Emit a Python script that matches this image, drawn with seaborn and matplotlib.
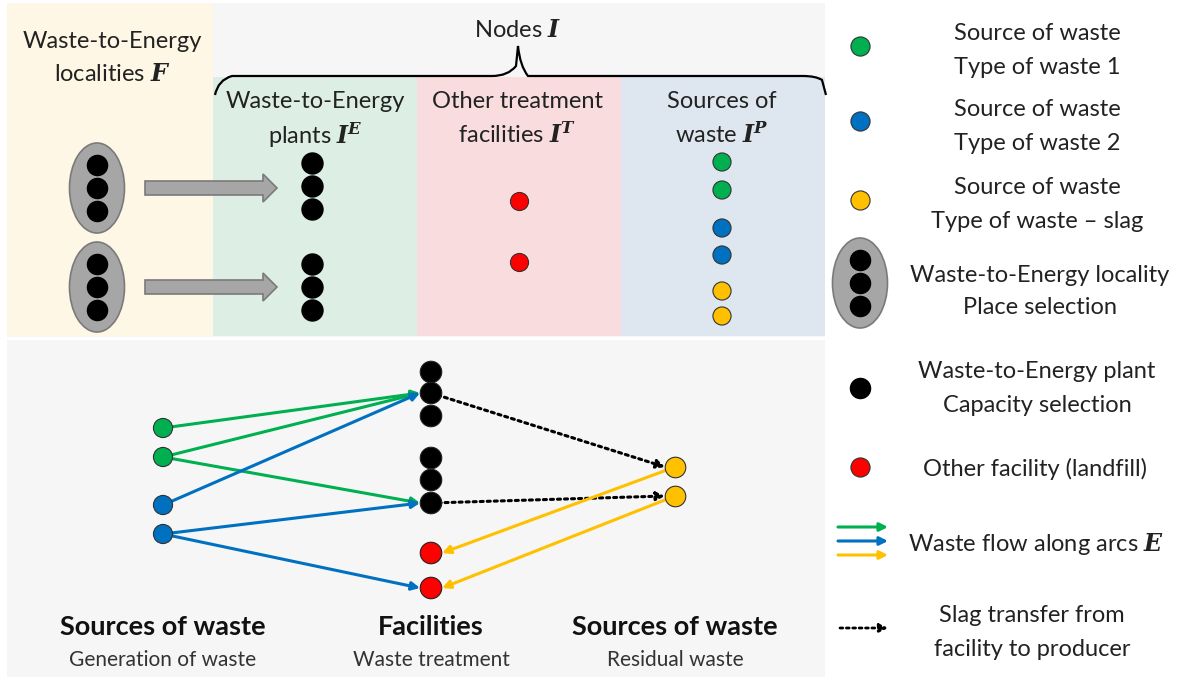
import matplotlib
matplotlib.use("Agg")
import matplotlib.pyplot as plt
import seaborn as sns
import pandas as pd
from matplotlib.patches import Rectangle, Ellipse, FancyArrow, PathPatch
from matplotlib.path import Path

sns.set_theme(style="white")
plt.rcParams["font.family"] = ["Lato", "DejaVu Sans"]
plt.rcParams["mathtext.fontset"] = "dejavuserif"

GREEN, BLUE, YELLOW, RED, BLACK = "#00B050", "#0070C0", "#FFC000", "#FF0000", "#000000"
palette = {"waste1": GREEN, "waste2": BLUE, "slag": YELLOW, "landfill": RED, "plant": BLACK}

# top panel: node sets I^E, I^T, I^P
top_plant_x = [312, 312, 312, 312, 312, 312]
top_plant_y = [163, 186, 209, 264, 287, 310]
top_other_x = [519, 519]
top_other_y = [201, 262]
top_src_x = [722, 722, 722, 722, 722, 722]
top_src_y = [162, 190, 228, 255, 291, 316]
top_src_kind = ["waste1", "waste1", "waste2", "waste2", "slag", "slag"]
localities_y = [188, 287]

# bottom panel: network
src_x = [163, 163, 163, 163]
src_y = [428, 457, 505, 534]
src_kind = ["waste1", "waste1", "waste2", "waste2"]
fac_x = [431] * 8
fac_y = [372, 393, 416, 458, 480, 503, 553, 588]
fac_kind = ["plant"] * 6 + ["landfill"] * 2
res_x = [675, 675]
res_y = [467, 496]

# arcs (start index, end index)
flows_in = [(0, 1, GREEN), (1, 1, GREEN), (1, 5, GREEN),
            (2, 1, BLUE), (3, 5, BLUE), (3, 7, BLUE)]
slag_transfer = [(1, 0), (5, 1)]
slag_flows = [(0, 6), (1, 7)]

legend_labels = [("Source of waste", "Type of waste 1"),
                 ("Source of waste", "Type of waste 2"),
                 ("Source of waste", "Type of waste \u2013 slag"),
                 ("Waste-to-Energy locality", "Place selection"),
                 ("Waste-to-Energy plant", "Capacity selection"),
                 ("Other facility (landfill)",),
                 (r"Waste flow along arcs $\mathbfit{E}$",),
                 ("Slag transfer from", "facility to producer")]

fig = plt.figure(figsize=(11.8, 6.8), dpi=100)
ax = fig.add_axes([0, 0, 1, 1])

# backgrounds
ax.add_patch(Rectangle((7, 3), 818, 674, fc="#F6F6F6", ec="none", zorder=0))
ax.add_patch(Rectangle((7, 3), 206, 333, fc="#FFF7E6", ec="none", zorder=1))
ax.add_patch(Rectangle((213, 77), 204, 259, fc="#DDEFE5", ec="none", zorder=1))
ax.add_patch(Rectangle((417, 77), 204, 259, fc="#F9DDDE", ec="none", zorder=1))
ax.add_patch(Rectangle((621, 77), 204, 259, fc="#DEE7F0", ec="none", zorder=1))
ax.plot([7, 825], [338, 338], color="white", lw=2, zorder=2)

# brace
verts = [(215, 95), (218, 80), (232, 76), (242, 76),
         (492, 76), (508, 76), (516, 66), (518, 46),
         (520, 66), (528, 76), (544, 76),
         (803, 76), (816, 76), (822, 80), (826, 95)]
codes = [Path.MOVETO, Path.CURVE3, Path.CURVE3, Path.LINETO,
         Path.LINETO, Path.CURVE3, Path.CURVE3, Path.LINETO,
         Path.CURVE3, Path.CURVE3, Path.LINETO,
         Path.LINETO, Path.CURVE3, Path.CURVE3, Path.LINETO]
ax.add_patch(PathPatch(Path(verts, codes), fc="none", ec="black", lw=1.6, zorder=3))

fs = 17
tc = "#222"


def lines(x, ys, texts, ha="center", size=fs, **kw):
    for y, t in zip(ys, texts):
        ax.text(x, y, t, ha=ha, va="center_baseline", fontsize=size,
                color=kw.get("color", tc), fontweight=kw.get("weight", "normal"), zorder=7)


lines(518, [28], [r"Nodes $\mathbfit{I}$"])
lines(112, [40, 72], ["Waste-to-Energy", r"localities $\mathbfit{F}$"])
lines(315, [100, 132], ["Waste-to-Energy", r"plants $\mathbfit{I}^{\mathbfit{E}}$"])
lines(517, [100, 132], ["Other treatment", r"facilities $\mathbfit{I}^{\mathbfit{T}}$"])
lines(722, [100, 132], ["Sources of", r"waste $\mathbfit{I}^{\mathbfit{P}}$"])


def locality(x, y):
    ax.add_patch(Ellipse((x, y), 55, 90, fc="#A6A6A6", ec="#7A7A7A", lw=1.2, zorder=4))
    sns.scatterplot(x=[x] * 3, y=[y - 23, y, y + 23], color="black", s=240,
                    linewidth=0, ax=ax, zorder=5, legend=False)


for ly in localities_y:
    locality(97, ly)
    ax.add_patch(FancyArrow(145, ly, 118, 0, width=14, head_width=28, head_length=14,
                            length_includes_head=False, fc="#A6A6A6", ec="#7A7A7A",
                            lw=1.2, zorder=4))

sns.scatterplot(x=top_plant_x, y=top_plant_y, color="black", s=260, linewidth=0,
                ax=ax, zorder=5, legend=False)
sns.scatterplot(x=top_other_x, y=top_other_y, color=RED, s=170, edgecolor="#333",
                linewidth=0.8, ax=ax, zorder=5, legend=False)
df_top = pd.DataFrame({"x": top_src_x, "y": top_src_y, "kind": top_src_kind})
sns.scatterplot(data=df_top, x="x", y="y", hue="kind", palette=palette, s=170,
                edgecolor="#333", linewidth=0.8, ax=ax, zorder=5, legend=False)

# bottom network arrows
for i, j, c in flows_in:
    ax.annotate("", xy=(fac_x[j] - 11, fac_y[j]), xytext=(src_x[i], src_y[i]),
                arrowprops=dict(arrowstyle="-|>", color=c, lw=2.2, mutation_scale=12,
                                shrinkA=0, shrinkB=0), zorder=4)
for i, j in slag_transfer:
    ax.annotate("", xy=(res_x[j] - 10, res_y[j]), xytext=(fac_x[i], fac_y[i]),
                arrowprops=dict(arrowstyle="-|>", color="black", lw=2.2, ls=(0, (1, 1.3)),
                                mutation_scale=12, shrinkA=0, shrinkB=0), zorder=4)
for i, j in slag_flows:
    ax.annotate("", xy=(fac_x[j] + 11, fac_y[j]), xytext=(res_x[i], res_y[i]),
                arrowprops=dict(arrowstyle="-|>", color=YELLOW, lw=2.2, mutation_scale=12,
                                shrinkA=0, shrinkB=0), zorder=4)

df_src = pd.DataFrame({"x": src_x, "y": src_y, "kind": src_kind})
sns.scatterplot(data=df_src, x="x", y="y", hue="kind", palette=palette, s=190,
                edgecolor="#333", linewidth=0.8, ax=ax, zorder=6, legend=False)
df_fac = pd.DataFrame({"x": fac_x, "y": fac_y, "kind": fac_kind})
sns.scatterplot(data=df_fac, x="x", y="y", hue="kind", palette=palette, s=240,
                edgecolor="#222", linewidth=0.8, ax=ax, zorder=6, legend=False)
sns.scatterplot(x=res_x, y=res_y, color=YELLOW, s=220, edgecolor="#333",
                linewidth=0.8, ax=ax, zorder=6, legend=False)

for x, title, sub in [(163, "Sources of waste", "Generation of waste"),
                      (431, "Facilities", "Waste treatment"),
                      (675, "Sources of waste", "Residual waste")]:
    lines(x, [625], [title], size=19.5, weight="bold", color="#111")
    lines(x, [658], [sub], size=15, color="#333")

# legend
for c, dy in zip([GREEN, BLUE, YELLOW], [46, 121, 200]):
    sns.scatterplot(x=[860], y=[dy], color=c, s=190, edgecolor="#333", linewidth=0.8,
                    ax=ax, zorder=6, legend=False)
lines(1037, [32, 66], legend_labels[0])
lines(1037, [107, 141], legend_labels[1])
lines(1037, [185, 219], legend_labels[2])
locality(860, 283)
lines(1040, [273, 305], legend_labels[3])
sns.scatterplot(x=[860], y=[388], color="black", s=240, linewidth=0, ax=ax, zorder=6,
                legend=False)
lines(1037, [370, 403], legend_labels[4])
sns.scatterplot(x=[860], y=[467], color=RED, s=190, edgecolor="#333", linewidth=0.8,
                ax=ax, zorder=6, legend=False)
lines(1035, [467], legend_labels[5])
for c, yy in zip([GREEN, BLUE, YELLOW], [527, 541, 555]):
    ax.annotate("", xy=(888, yy), xytext=(838, yy),
                arrowprops=dict(arrowstyle="-|>", color=c, lw=2.2, mutation_scale=12,
                                shrinkA=0, shrinkB=0))
lines(908, [541], legend_labels[6], ha="left")
ax.annotate("", xy=(888, 628), xytext=(840, 628),
            arrowprops=dict(arrowstyle="-|>", color="black", lw=2, ls=(0, (1, 1.3)),
                            mutation_scale=12, shrinkA=0, shrinkB=0))
lines(1032, [614, 647], legend_labels[7])

ax.set_xlim(0, 1180)
ax.set_ylim(680, 0)
ax.axis("off")
fig.savefig("out.png", dpi=100, facecolor="white")
